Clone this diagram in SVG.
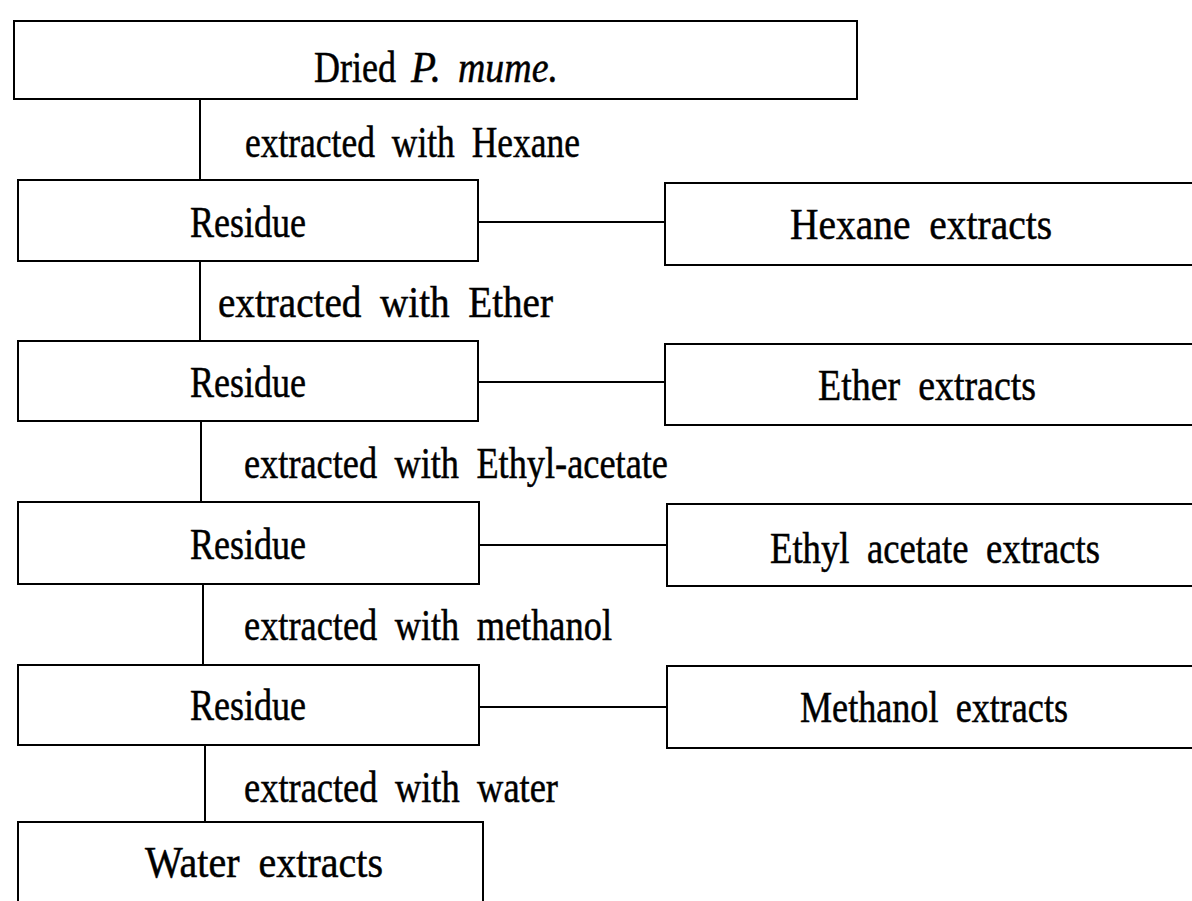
<svg xmlns="http://www.w3.org/2000/svg" width="1192" height="901" viewBox="0 0 1192 901">
<style>
.box{fill:#fff;stroke:#000;stroke-width:2}
.ln{stroke:#000;stroke-width:2;fill:none}
text{font-family:"Liberation Serif","Times New Roman",serif;font-size:44px;fill:#000;stroke:#000;stroke-width:0.5;word-spacing:10px}
.it{font-style:italic}
</style>
<rect width="1192" height="901" fill="#fff"/>
<g id="connectors">
<line class="ln" x1="200" y1="99" x2="200" y2="180"/>
<line class="ln" x1="200" y1="261" x2="200" y2="341"/>
<line class="ln" x1="201" y1="421" x2="201" y2="502"/>
<line class="ln" x1="203" y1="584" x2="203" y2="665"/>
<line class="ln" x1="205" y1="745" x2="205" y2="822"/>
<line class="ln" x1="478" y1="222" x2="665" y2="222"/>
<line class="ln" x1="478" y1="382" x2="665" y2="382"/>
<line class="ln" x1="479" y1="545" x2="667" y2="545"/>
<line class="ln" x1="479" y1="707" x2="667" y2="707"/>
<text x="245" y="157" textLength="335" lengthAdjust="spacingAndGlyphs">extracted with Hexane</text>
<text x="218" y="317" textLength="335" lengthAdjust="spacingAndGlyphs">extracted with Ether</text>
<text x="244" y="478" textLength="424" lengthAdjust="spacingAndGlyphs">extracted with Ethyl-acetate</text>
<text x="244" y="640" textLength="368" lengthAdjust="spacingAndGlyphs">extracted with methanol</text>
<text x="244" y="802" textLength="314" lengthAdjust="spacingAndGlyphs">extracted with water</text>
</g>
<g id="dried">
<rect class="box" x="14" y="21" width="843" height="78"/>
<text y="82"><tspan x="314" textLength="82" lengthAdjust="spacingAndGlyphs">Dried</tspan><tspan class="it" x="411" textLength="30" lengthAdjust="spacingAndGlyphs">P.</tspan><tspan class="it" x="458" textLength="100" lengthAdjust="spacingAndGlyphs">mume.</tspan></text>
</g>
<g id="residue1">
<rect class="box" x="18" y="180" width="460" height="81"/>
<text x="190" y="237" textLength="116" lengthAdjust="spacingAndGlyphs">Residue</text>
</g>
<g id="hexane">
<rect class="box" x="665" y="183" width="540" height="82"/>
<text x="790" y="239" textLength="262" lengthAdjust="spacingAndGlyphs">Hexane extracts</text>
</g>
<g id="residue2">
<rect class="box" x="18" y="341" width="460" height="80"/>
<text x="190" y="397" textLength="116" lengthAdjust="spacingAndGlyphs">Residue</text>
</g>
<g id="ether">
<rect class="box" x="665" y="344" width="540" height="81"/>
<text x="818" y="400" textLength="218" lengthAdjust="spacingAndGlyphs">Ether extracts</text>
</g>
<g id="residue3">
<rect class="box" x="18" y="502" width="461" height="82"/>
<text x="190" y="559" textLength="116" lengthAdjust="spacingAndGlyphs">Residue</text>
</g>
<g id="ethylacetate">
<rect class="box" x="667" y="504" width="540" height="82"/>
<text x="770" y="563" textLength="330" lengthAdjust="spacingAndGlyphs">Ethyl acetate extracts</text>
</g>
<g id="residue4">
<rect class="box" x="18" y="665" width="461" height="80"/>
<text x="190" y="720" textLength="116" lengthAdjust="spacingAndGlyphs">Residue</text>
</g>
<g id="methanol">
<rect class="box" x="667" y="666" width="540" height="82"/>
<text x="800" y="722" textLength="268" lengthAdjust="spacingAndGlyphs">Methanol extracts</text>
</g>
<g id="water">
<rect class="box" x="18" y="822" width="465" height="90"/>
<text x="145" y="877" textLength="238" lengthAdjust="spacingAndGlyphs">Water extracts</text>
</g>
</svg>
